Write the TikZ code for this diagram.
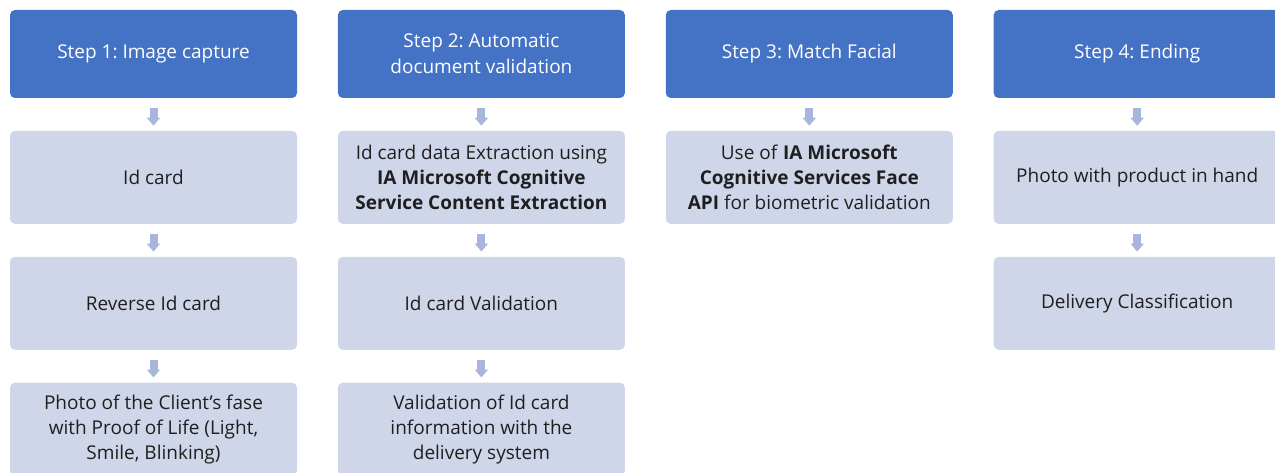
\documentclass[tikz,border=0pt]{standalone}
\usepackage{fontspec}
\setmainfont{Open Sans}
\frenchspacing
\usetikzlibrary{arrows.meta,positioning}
\definecolor{headblue}{HTML}{4472C4}
\definecolor{cardfill}{HTML}{D0D6E9}
\definecolor{arrowfill}{HTML}{A8B6DC}
\tikzset{
  head/.style={fill=headblue, rounded corners=5pt, align=center, inner sep=0pt,
               minimum width=287pt, minimum height=88pt, text=white,
               font=\fontsize{19}{26}\selectfont},
  card/.style={fill=cardfill, rounded corners=5pt, align=center, inner sep=0pt,
               minimum width=287pt, minimum height=93pt, text=black!88,
               font=\fontsize{19}{25}\selectfont},
  flow/.style={-{Triangle[width=13pt,length=8pt]}, line width=8pt, draw=arrowfill,
               shorten <=10pt, shorten >=5pt},
}

\begin{document}
\begin{tikzpicture}[x=1pt, y=-1pt, node distance=32.5pt and 40.5pt]
  \useasboundingbox (0,0) rectangle (1275,473);
  % step headers
  \node[head] (s1) at (153.5,54) {Step 1: Image capture};
  \node[head, right=of s1] (s2) {Step 2: Automatic\\document validation};
  \node[head, right=of s2] (s3) {Step 3: Match Facial};
  \node[head, right=of s3] (s4) {Step 4: Ending};
  % step 1
  \node[card, below=of s1] (idcard) {Id card};
  \node[card, below=of idcard] (reverse) {Reverse Id card};
  \node[card, below=of reverse] (selfie) {Photo of the Client’s fase\\with Proof of Life (Light,\\Smile, Blinking)};
  % step 2
  \node[card, below=of s2] (extract) {Id card data Extraction using\\\textbf{IA Microsoft Cognitive}\\\textbf{Service Content Extraction}};
  \node[card, below=of extract] (idvalid) {Id card Validation};
  \node[card, below=of idvalid] (delivery) {Validation of Id card\\information with the\\delivery system};
  % step 3
  \node[card, below=of s3] (faceapi) {Use of \textbf{IA Microsoft}\\\textbf{Cognitive Services Face}\\\textbf{API} for biometric validation};
  % step 4
  \node[card, below=of s4] (product) {Photo with product in hand};
  \node[card, below=of product] (classif) {Delivery Classification};
  \draw[flow] (s1) -- (idcard);
  \draw[flow] (idcard) -- (reverse);
  \draw[flow] (reverse) -- (selfie);
  \draw[flow] (s2) -- (extract);
  \draw[flow] (extract) -- (idvalid);
  \draw[flow] (idvalid) -- (delivery);
  \draw[flow] (s3) -- (faceapi);
  \draw[flow] (s4) -- (product);
  \draw[flow] (product) -- (classif);
\end{tikzpicture}
\end{document}
